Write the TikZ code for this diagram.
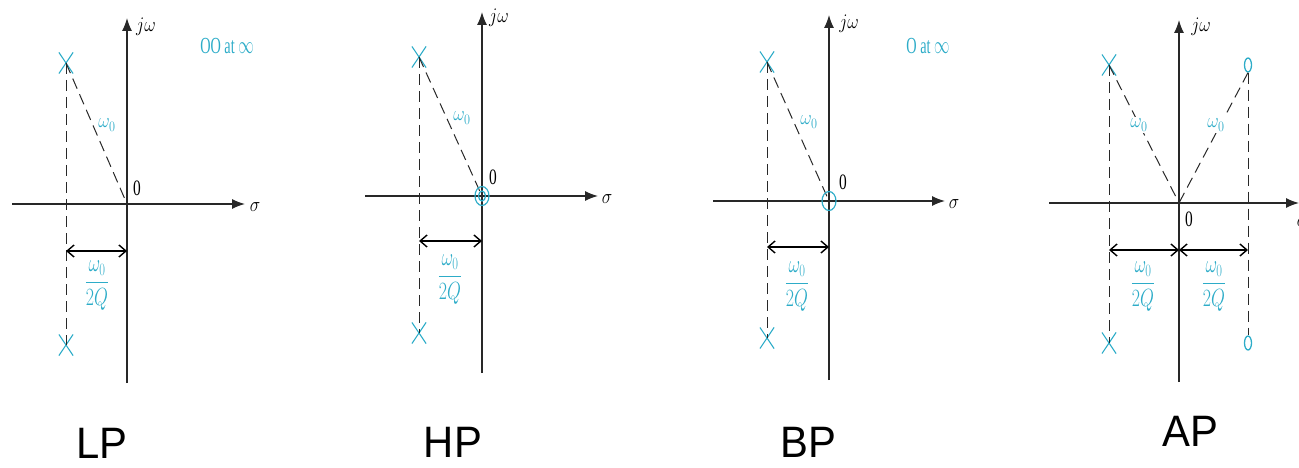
\documentclass[tikz,border=0pt]{standalone}
\usepackage{fontspec}
\setmainfont{Liberation Serif}
\newfontfamily\labfont{Liberation Sans}
\usetikzlibrary{arrows.meta,shapes.misc,shapes.geometric}
\definecolor{pz}{RGB}{45,172,200}
\definecolor{axc}{RGB}{40,40,40}
\newcommand{\sqm}[1]{\scalebox{0.85}[1]{#1}}
\newcommand{\sqt}[1]{\scalebox{0.7}[1]{#1}}
\newcommand{\sqn}[1]{\scalebox{0.62}[1]{#1}}
\newcommand{\wfrac}{\scalebox{0.72}[1]{$\displaystyle\frac{\omega_0}{2Q}$}}
\tikzset{
  axisline/.style={draw=axc, line width=1.3pt, -{Latex[length=13pt,width=10pt]}},
  guide/.style={draw=axc, line width=1pt, dash pattern=on 11pt off 6pt},
  spanarrow/.style={draw=black, line width=1.4pt, {Straight Barb[length=7pt,width=12pt]}-{Straight Barb[length=7pt,width=12pt]}},
  pole/.style={cross out, draw=pz, line width=1.1pt, minimum width=13pt, minimum height=20pt, inner sep=0pt},
  zeromark/.style={ellipse, draw=pz, line width=1.3pt, minimum width=7pt, minimum height=14pt, inner sep=0pt},
  lbl/.style={inner sep=0pt, font=\fontsize{22}{24}\selectfont},
  wlbl/.style={inner sep=0pt, text=pz, font=\fontsize{22}{24}\selectfont},
  frl/.style={inner sep=0pt, text=pz, font=\fontsize{26}{28}\selectfont},
  inflbl/.style={inner sep=0pt, text=pz, font=\fontsize{23}{25}\selectfont},
  filtname/.style={inner sep=0pt, anchor=base, font=\labfont\fontsize{44}{46}\selectfont}
}
\begin{document}
\begin{tikzpicture}[x=1pt,y=-1pt]
\useasboundingbox (0,0) rectangle (1299,468);
\clip (0,0) rectangle (1299,468);
% ---------- LP ----------
\coordinate (o1) at (127,204);
\coordinate (v1b) at (127,383); \coordinate (v1t) at (127,18);
\coordinate (h1l) at (12,204); \coordinate (h1r) at (245,204);
\draw[axisline] (v1b) -- (v1t);
\draw[axisline] (h1l) -- (h1r);
\node[pole] (p1a) at (66,63) {};
\node[pole] (p1b) at (66,345) {};
\draw[guide] (p1a.center) -- (p1b.center);
\draw[guide] (p1a.center) -- (o1);
\coordinate (a1l) at (66,251); \coordinate (a1r) at (127,251);
\draw[spanarrow] (a1l) -- (a1r);
\node[wlbl] (w1) at (107,125) {\sqm{$\omega_0$}};
\node[frl] (f1) at (97,286) {\wfrac};
\node[lbl] (z1) at (137,188) {\sqt{0}};
\node[lbl] (s1) at (255,207) {\sqm{$\sigma$}};
\node[lbl] (j1) at (146,27) {\sqm{$j\omega$}};
\node[inflbl] (n1) at (227,46) {\sqn{OO at $\infty$}};
\node[filtname] (L1) at (102,458) {\scalebox{0.95}[1]{LP}};
% ---------- HP ----------
\coordinate (o2) at (482,196);
\coordinate (v2b) at (482,373); \coordinate (v2t) at (482,12);
\coordinate (h2l) at (365,196); \coordinate (h2r) at (598,196);
\draw[axisline] (v2b) -- (v2t);
\draw[axisline] (h2l) -- (h2r);
\node[pole] (p2a) at (419,57) {};
\node[pole] (p2b) at (419,333) {};
\draw[guide] (p2a.center) -- (p2b.center);
\draw[guide] (p2a.center) -- (o2);
\node[ellipse, draw=pz, line width=1.2pt, minimum width=14pt, minimum height=19pt, inner sep=0pt] (zz2a) at (o2) {};
\node[ellipse, draw=pz, line width=1.2pt, minimum width=7pt, minimum height=10pt, inner sep=0pt] (zz2b) at (o2) {};
\coordinate (a2l) at (419,241); \coordinate (a2r) at (482,241);
\draw[spanarrow] (a2l) -- (a2r);
\node[wlbl] (w2) at (462,118) {\sqm{$\omega_0$}};
\node[frl] (f2) at (450,280) {\wfrac};
\node[lbl] (z2) at (493,177) {\sqt{0}};
\node[lbl] (s2) at (607,199) {\sqm{$\sigma$}};
\node[lbl] (j2) at (499,18) {\sqm{$j\omega$}};
\node[filtname] (L2) at (453,457) {\scalebox{0.95}[1]{HP}};
% ---------- BP ----------
\coordinate (o3) at (829,201);
\coordinate (v3b) at (829,380); \coordinate (v3t) at (829,15);
\coordinate (h3l) at (713,201); \coordinate (h3r) at (945,201);
\draw[axisline] (v3b) -- (v3t);
\draw[axisline] (h3l) -- (h3r);
\node[pole] (p3a) at (767,62) {};
\node[pole] (p3b) at (767,338) {};
\draw[guide] (p3a.center) -- (p3b.center);
\draw[guide] (p3a.center) -- (o3);
\node[ellipse, draw=pz, line width=1.2pt, minimum width=14pt, minimum height=19pt, inner sep=0pt] (zz3) at (o3) {};
\coordinate (a3l) at (767,247); \coordinate (a3r) at (829,247);
\draw[spanarrow] (a3l) -- (a3r);
\node[wlbl] (w3) at (809,122) {\sqm{$\omega_0$}};
\node[frl] (f3) at (797,287) {\wfrac};
\node[lbl] (z3) at (843,182) {\sqt{0}};
\node[lbl] (s3) at (954,204) {\sqm{$\sigma$}};
\node[lbl] (j3) at (849,24) {\sqm{$j\omega$}};
\node[inflbl] (n3) at (928,46) {\sqn{O at $\infty$}};
\node[filtname] (L3) at (808,457) {\scalebox{0.95}[1]{BP}};
% ---------- AP ----------
\coordinate (o4) at (1179,203);
\coordinate (v4b) at (1179,382); \coordinate (v4t) at (1179,20);
\coordinate (h4l) at (1049,203); \coordinate (h4r) at (1299,203);
\draw[axisline] (v4b) -- (v4t);
\draw[axisline] (h4l) -- (h4r);
\node[pole] (p4a) at (1109,65) {};
\node[pole] (p4b) at (1109,343) {};
\node[zeromark] (q4a) at (1248,65) {};
\node[zeromark] (q4b) at (1248,343) {};
\draw[guide] (p4a.center) -- (p4b.center);
\draw[guide] (q4a.south) -- (q4b.north);
\draw[guide] (p4a.center) -- (o4);
\draw[guide] (q4a.south) -- (o4);
\coordinate (a4l) at (1109,250); \coordinate (a4m) at (1179,250); \coordinate (a4r) at (1248,250);
\draw[spanarrow] (a4l) -- (a4m);
\draw[spanarrow] (a4m) -- (a4r);
\node[wlbl, fill=white, inner sep=2pt] (w4a) at (1139,125) {\sqm{$\omega_0$}};
\node[wlbl, fill=white, inner sep=2pt] (w4b) at (1216,125) {\sqm{$\omega_0$}};
\node[frl] (f4a) at (1143,287) {\wfrac};
\node[frl] (f4b) at (1214,287) {\wfrac};
\node[lbl] (z4) at (1189,219) {\sqt{0}};
\node[lbl] (s4) at (1302,222) {\sqm{$\sigma$}};
\node[lbl] (j4) at (1201,27) {\sqm{$j\omega$}};
\node[filtname] (L4) at (1190,446) {\scalebox{0.95}[1]{AP}};
\end{tikzpicture}
\end{document}
